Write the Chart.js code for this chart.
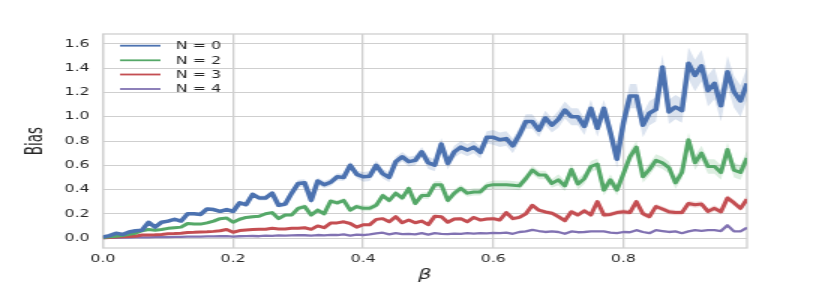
<!DOCTYPE html>
<html>
<head>
<meta charset="utf-8">
<script src="https://cdn.jsdelivr.net/npm/chart.js@4.4.1/dist/chart.umd.min.js"></script>
<style>
  html, body { margin: 0; padding: 0; background: #fff; overflow: hidden; }
  /* the reference is a horizontally stretched figure, so stretch the canvas the same way */
  #wrap { width: 553.33px; height: 284px; transform: scaleX(1.5); transform-origin: 0 0; }
</style>
</head>
<body>
<div id="wrap"><canvas id="biasChart"></canvas></div>
<script>
const betas = [
  0.00, 0.01, 0.02, 0.03, 0.04, 0.05, 0.06, 0.07, 0.08, 0.09,
  0.10, 0.11, 0.12, 0.13, 0.14, 0.15, 0.16, 0.17, 0.18, 0.19,
  0.20, 0.21, 0.22, 0.23, 0.24, 0.25, 0.26, 0.27, 0.28, 0.29,
  0.30, 0.31, 0.32, 0.33, 0.34, 0.35, 0.36, 0.37, 0.38, 0.39,
  0.40, 0.41, 0.42, 0.43, 0.44, 0.45, 0.46, 0.47, 0.48, 0.49,
  0.50, 0.51, 0.52, 0.53, 0.54, 0.55, 0.56, 0.57, 0.58, 0.59,
  0.60, 0.61, 0.62, 0.63, 0.64, 0.65, 0.66, 0.67, 0.68, 0.69,
  0.70, 0.71, 0.72, 0.73, 0.74, 0.75, 0.76, 0.77, 0.78, 0.79,
  0.80, 0.81, 0.82, 0.83, 0.84, 0.85, 0.86, 0.87, 0.88, 0.89,
  0.90, 0.91, 0.92, 0.93, 0.94, 0.95, 0.96, 0.97, 0.98, 0.99,
];

const biasN0 = [
  0.01, 0.02, 0.04, 0.03, 0.05, 0.06, 0.065, 0.13, 0.09, 0.13,
  0.14, 0.155, 0.14, 0.20, 0.20, 0.195, 0.24, 0.235, 0.22, 0.235,
  0.22, 0.29, 0.275, 0.36, 0.33, 0.33, 0.37, 0.27, 0.28, 0.37,
  0.45, 0.455, 0.31, 0.47, 0.44, 0.46, 0.505, 0.50, 0.60, 0.525,
  0.505, 0.51, 0.60, 0.53, 0.50, 0.63, 0.67, 0.63, 0.64, 0.71,
  0.62, 0.60, 0.775, 0.615, 0.71, 0.75, 0.725, 0.75, 0.705, 0.83,
  0.83, 0.81, 0.82, 0.76, 0.85, 0.96, 0.96, 0.89, 0.99, 0.93,
  0.98, 1.055, 1.0, 1.0, 0.92, 1.07, 0.905, 1.07, 0.87, 0.65,
  0.95, 1.17, 1.17, 0.93, 1.03, 1.06, 1.41, 1.04, 1.08, 1.05,
  1.44, 1.34, 1.42, 1.215, 1.275, 1.09, 1.37, 1.205, 1.13, 1.275,
];

const biasN2 = [
  0.005, 0.01, 0.015, 0.02, 0.03, 0.04, 0.06, 0.07, 0.065, 0.07,
  0.08, 0.085, 0.09, 0.12, 0.115, 0.115, 0.125, 0.14, 0.16, 0.165,
  0.13, 0.155, 0.17, 0.175, 0.18, 0.20, 0.21, 0.16, 0.19, 0.19,
  0.245, 0.26, 0.19, 0.23, 0.20, 0.305, 0.29, 0.31, 0.23, 0.26,
  0.245, 0.245, 0.27, 0.35, 0.31, 0.37, 0.33, 0.41, 0.285, 0.35,
  0.35, 0.44, 0.44, 0.31, 0.37, 0.41, 0.37, 0.38, 0.38, 0.43,
  0.44, 0.44, 0.44, 0.435, 0.43, 0.49, 0.56, 0.52, 0.52, 0.45,
  0.48, 0.43, 0.565, 0.445, 0.49, 0.59, 0.61, 0.395, 0.48, 0.395,
  0.53, 0.67, 0.75, 0.505, 0.565, 0.64, 0.62, 0.58, 0.455, 0.54,
  0.81, 0.62, 0.70, 0.59, 0.59, 0.54, 0.73, 0.56, 0.54, 0.66,
];

const biasN3 = [
  0.003, 0.005, 0.008, 0.01, 0.012, 0.015, 0.025, 0.025, 0.027, 0.03,
  0.035, 0.037, 0.04, 0.045, 0.047, 0.05, 0.052, 0.055, 0.06, 0.07,
  0.048, 0.062, 0.067, 0.07, 0.072, 0.073, 0.08, 0.075, 0.075, 0.08,
  0.08, 0.085, 0.072, 0.10, 0.085, 0.125, 0.125, 0.134, 0.12, 0.09,
  0.11, 0.11, 0.154, 0.16, 0.134, 0.176, 0.126, 0.148, 0.126, 0.14,
  0.11, 0.18, 0.176, 0.13, 0.157, 0.16, 0.134, 0.17, 0.148, 0.157,
  0.16, 0.148, 0.21, 0.16, 0.17, 0.20, 0.27, 0.23, 0.215, 0.205,
  0.176, 0.143, 0.217, 0.19, 0.225, 0.19, 0.30, 0.19, 0.195, 0.21,
  0.217, 0.21, 0.30, 0.20, 0.176, 0.26, 0.24, 0.217, 0.21, 0.21,
  0.285, 0.275, 0.28, 0.22, 0.245, 0.217, 0.33, 0.29, 0.245, 0.32,
];

const biasN4 = [
  0.0, 0.001, 0.002, 0.003, 0.004, 0.005, 0.006, 0.006, 0.007, 0.008,
  0.008, 0.009, 0.01, 0.011, 0.011, 0.012, 0.013, 0.014, 0.015, 0.016,
  0.012, 0.015, 0.016, 0.017, 0.015, 0.02, 0.018, 0.022, 0.02, 0.022,
  0.024, 0.023, 0.02, 0.025, 0.022, 0.027, 0.025, 0.03, 0.02, 0.028,
  0.025, 0.03, 0.038, 0.044, 0.03, 0.04, 0.032, 0.035, 0.03, 0.04,
  0.028, 0.04, 0.035, 0.033, 0.037, 0.035, 0.04, 0.036, 0.04, 0.038,
  0.042, 0.04, 0.045, 0.035, 0.05, 0.055, 0.068, 0.058, 0.05, 0.055,
  0.05, 0.035, 0.055, 0.048, 0.05, 0.055, 0.055, 0.055, 0.045, 0.04,
  0.05, 0.048, 0.065, 0.05, 0.04, 0.065, 0.058, 0.05, 0.055, 0.04,
  0.055, 0.065, 0.06, 0.065, 0.065, 0.058, 0.105, 0.055, 0.055, 0.085,
];

// half-width of the shaded band, one value per 0.1 of beta
const spreadN0 = [0.01, 0.015, 0.02, 0.03, 0.04, 0.05, 0.06, 0.07, 0.10, 0.13];
const spreadN2 = [0.005, 0.01, 0.012, 0.02, 0.025, 0.03, 0.035, 0.045, 0.05, 0.06];
const spreadN3 = [0.003, 0.005, 0.007, 0.01, 0.012, 0.015, 0.017, 0.02, 0.022, 0.025];
const spreadN4 = [0.002, 0.002, 0.003, 0.003, 0.004, 0.004, 0.005, 0.005, 0.006, 0.006];

const xTicks = [0.0, 0.2, 0.4, 0.6, 0.8];
const yTicks = [0.0, 0.2, 0.4, 0.6, 0.8, 1.0, 1.2, 1.4, 1.6];

const SERIES = [
  { label: "N = 0", values: biasN0, spread: spreadN0, color: "#4c72b0", band: "rgba(76,114,176,0.2)", width: 3.5 },
  { label: "N = 2", values: biasN2, spread: spreadN2, color: "#55a868", band: "rgba(85,168,104,0.2)", width: 3 },
  { label: "N = 3", values: biasN3, spread: spreadN3, color: "#c44e52", band: "rgba(196,78,82,0.2)", width: 3 },
  { label: "N = 4", values: biasN4, spread: spreadN4, color: "#8172b2", band: "rgba(129,114,178,0.2)", width: 2.3 },
];

const TEXT_COLOR = "#262626";
const GRID_COLOR = "#cfcfcf";

Chart.defaults.font.family = "'DejaVu Sans', sans-serif";
Chart.defaults.color = TEXT_COLOR;

function points(values, offsets) {
  return values.map((v, i) => ({ x: betas[i], y: v + (offsets ? offsets[i] : 0) }));
}

function bandOffsets(spread, sign) {
  return betas.map((_, i) => sign * spread[Math.min(spread.length - 1, Math.floor(i / 10))]);
}

const lineSets = SERIES.map((s) => ({
  label: s.label,
  data: points(s.values),
  borderColor: s.color,
  backgroundColor: s.color,
  borderWidth: s.width,
  borderJoinStyle: "round",
  pointRadius: 0,
  tension: 0,
  fill: false,
}));

const bandSets = [];
SERIES.forEach((s) => {
  bandSets.push({
    label: s.label + " low",
    data: points(s.values, bandOffsets(s.spread, -1)),
    borderColor: "transparent",
    borderWidth: 0,
    pointRadius: 0,
    fill: false,
  });
  bandSets.push({
    label: s.label + " high",
    data: points(s.values, bandOffsets(s.spread, 1)),
    borderColor: "transparent",
    borderWidth: 0,
    pointRadius: 0,
    backgroundColor: s.band,
    fill: "-1",
  });
});

/* ===== plot frame + legend drawn inside the axes ===== */
const framePlugin = {
  id: "frame",
  beforeDatasetsDraw(chart) {
    const { ctx, chartArea: a } = chart;
    ctx.save();
    ctx.strokeStyle = GRID_COLOR;
    ctx.lineWidth = 1.3;
    ctx.strokeRect(a.left, a.top, a.right - a.left, a.bottom - a.top);
    ctx.restore();
  },
};

const legendPlugin = {
  id: "innerLegend",
  afterDraw(chart) {
    const { ctx } = chart;
    const rows = [45.7, 60.3, 74.5, 89];
    ctx.save();
    ctx.font = "10.5px 'DejaVu Sans', sans-serif";
    ctx.textBaseline = "middle";
    ctx.fillStyle = TEXT_COLOR;
    SERIES.forEach((s, i) => {
      ctx.strokeStyle = s.color;
      ctx.lineWidth = 1.8;
      ctx.beginPath();
      ctx.moveTo(80, rows[i]);
      ctx.lineTo(107, rows[i]);
      ctx.stroke();
      ctx.fillText(s.label, 117.3, rows[i] + 0.5);
    });
    ctx.restore();
  },
};

new Chart(document.getElementById("biasChart"), {
  type: "line",
  data: { datasets: [...lineSets, ...bandSets] },
  options: {
    responsive: true,
    maintainAspectRatio: false,
    animation: false,
    layout: { padding: { left: 0, right: 55.3, top: 34, bottom: 0 } },
    plugins: {
      legend: { display: false },
      tooltip: { enabled: false },
    },
    scales: {
      x: {
        type: "linear",
        min: 0,
        max: 0.99,
        afterFit: (scale) => { scale.height = 36; },
        afterBuildTicks: (scale) => { scale.ticks = xTicks.map((v) => ({ value: v })); },
        grid: { color: GRID_COLOR, lineWidth: 1.3, drawTicks: false },
        border: { display: false },
        ticks: {
          padding: 5,
          font: { size: 10.5 },
          callback: (v) => v.toFixed(1),
        },
        title: {
          display: true,
          text: "β",
          font: { size: 14, style: "italic" },
          padding: { top: 0, bottom: 0.6 },
        },
      },
      y: {
        min: -0.082,
        max: 1.682,
        afterFit: (scale) => { scale.width = 68.67; },
        afterBuildTicks: (scale) => { scale.ticks = yTicks.map((v) => ({ value: v })); },
        grid: { color: GRID_COLOR, lineWidth: 1, drawTicks: false },
        border: { display: false },
        ticks: {
          padding: 9,
          font: { size: 10.5 },
          callback: (v) => v.toFixed(1),
        },
        title: {
          display: true,
          text: "Bias",
          font: { size: 15, family: "'DejaVu Sans Condensed', 'DejaVu Sans', sans-serif" },
          padding: { top: 15.5, bottom: 0 },
        },
      },
    },
  },
  plugins: [framePlugin, legendPlugin],
});
</script>
</body>
</html>
